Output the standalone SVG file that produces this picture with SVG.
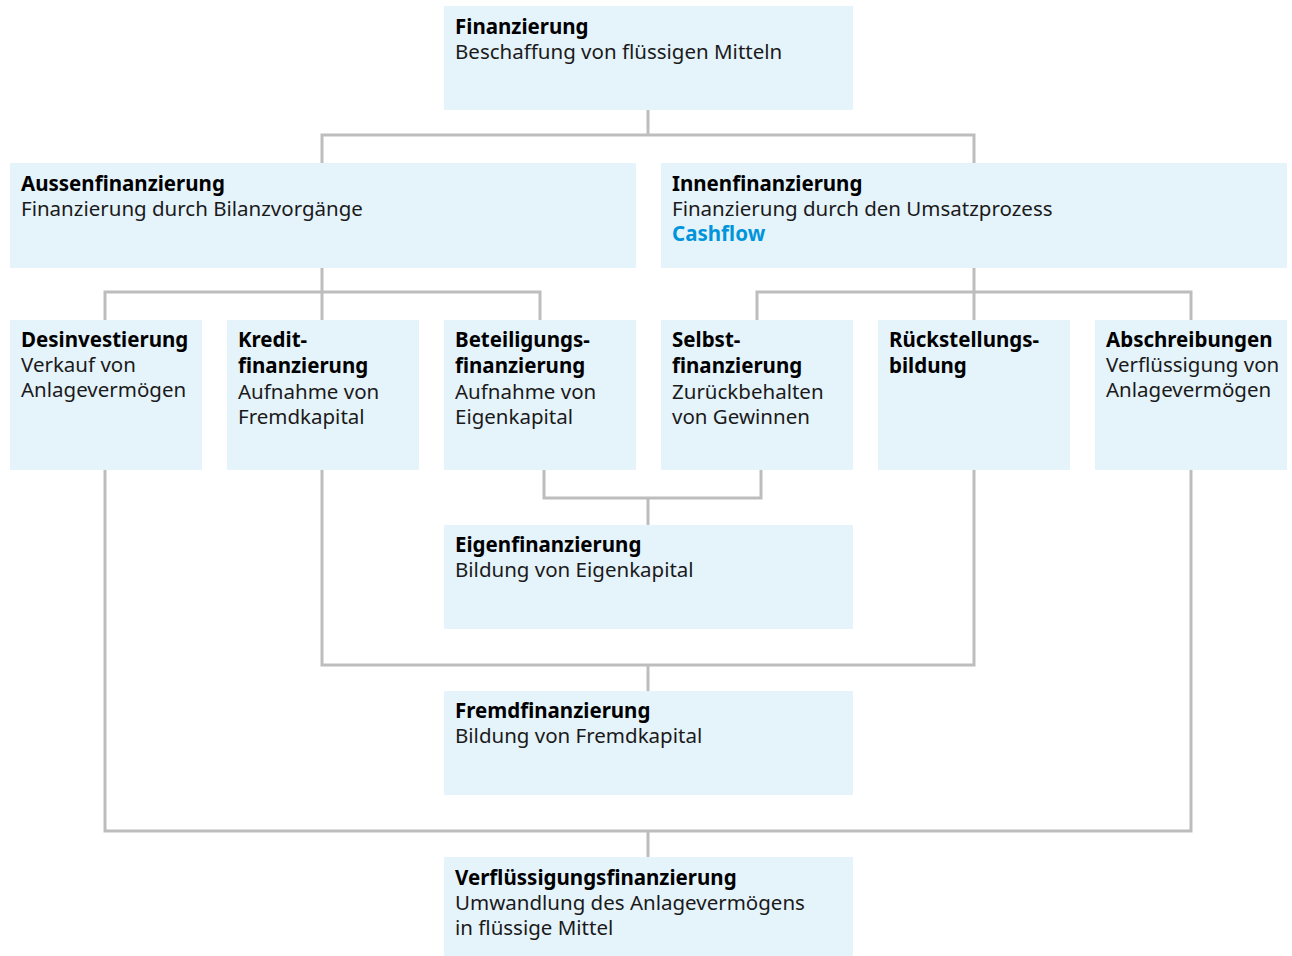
<svg xmlns="http://www.w3.org/2000/svg" width="1292" height="956" viewBox="0 0 1292 956">
<style>
.box{fill:#e5f3fb}
text{font-family:"Noto Sans","Open Sans","Liberation Sans",sans-serif;font-size:20.5px;fill:#1a1a1a}
.b{font-weight:bold;fill:#000}
.c{font-weight:bold;fill:#0095db}
.ln{fill:none;stroke:#bdbdbd;stroke-width:3}
</style>
<rect width="1292" height="956" fill="#fff"/>
<g id="connectors">
<path class="ln" d="M648,110V135M322,163V135H974V163"/>
<path class="ln" d="M322,268V320M105,320V292H540V320"/>
<path class="ln" d="M974,268V320M757,320V292H1191V320"/>
<path class="ln" d="M544,470V498H761V470M648,498V525"/>
<path class="ln" d="M322,470V665H974V470M648,665V691"/>
<path class="ln" d="M105,470V831H1191V470M648,831V857"/>
</g>
<g id="finanzierung"><rect class="box" x="444" y="6" width="409" height="104"/><text x="455" y="34"><tspan class="b">Finanzierung</tspan><tspan x="455" dy="25">Beschaffung von flüssigen Mitteln</tspan></text></g>
<g id="aussen"><rect class="box" x="10" y="163" width="626" height="105"/><text x="21" y="191"><tspan class="b">Aussenfinanzierung</tspan><tspan x="21" dy="25">Finanzierung durch Bilanzvorgänge</tspan></text></g>
<g id="innen"><rect class="box" x="661" y="163" width="626" height="105"/><text x="672" y="191"><tspan class="b">Innenfinanzierung</tspan><tspan x="672" dy="25">Finanzierung durch den Umsatzprozess</tspan><tspan x="672" dy="25" class="c">Cashflow</tspan></text></g>
<g id="desinvestierung"><rect class="box" x="10" y="320" width="192" height="150"/><text x="21" y="347"><tspan class="b">Desinvestierung</tspan><tspan x="21" dy="25">Verkauf von</tspan><tspan x="21" dy="25">Anlagevermögen</tspan></text></g>
<g id="kredit"><rect class="box" x="227" y="320" width="192" height="150"/><text x="238" y="347"><tspan class="b">Kredit-</tspan><tspan x="238" dy="26" class="b">finanzierung</tspan><tspan x="238" dy="26">Aufnahme von</tspan><tspan x="238" dy="25">Fremdkapital</tspan></text></g>
<g id="beteiligung"><rect class="box" x="444" y="320" width="192" height="150"/><text x="455" y="347"><tspan class="b">Beteiligungs-</tspan><tspan x="455" dy="26" class="b">finanzierung</tspan><tspan x="455" dy="26">Aufnahme von</tspan><tspan x="455" dy="25">Eigenkapital</tspan></text></g>
<g id="selbst"><rect class="box" x="661" y="320" width="192" height="150"/><text x="672" y="347"><tspan class="b">Selbst-</tspan><tspan x="672" dy="26" class="b">finanzierung</tspan><tspan x="672" dy="26">Zurückbehalten</tspan><tspan x="672" dy="25">von Gewinnen</tspan></text></g>
<g id="rueckstellung"><rect class="box" x="878" y="320" width="192" height="150"/><text x="889" y="347"><tspan class="b">Rückstellungs-</tspan><tspan x="889" dy="26" class="b">bildung</tspan></text></g>
<g id="abschreibungen"><rect class="box" x="1095" y="320" width="192" height="150"/><text x="1106" y="347"><tspan class="b">Abschreibungen</tspan><tspan x="1106" dy="25">Verflüssigung von</tspan><tspan x="1106" dy="25">Anlagevermögen</tspan></text></g>
<g id="eigen"><rect class="box" x="444" y="525" width="409" height="104"/><text x="455" y="552"><tspan class="b">Eigenfinanzierung</tspan><tspan x="455" dy="25">Bildung von Eigenkapital</tspan></text></g>
<g id="fremd"><rect class="box" x="444" y="691" width="409" height="104"/><text x="455" y="718"><tspan class="b">Fremdfinanzierung</tspan><tspan x="455" dy="25">Bildung von Fremdkapital</tspan></text></g>
<g id="verfluessigung"><rect class="box" x="444" y="857" width="409" height="99"/><text x="455" y="885"><tspan class="b">Verflüssigungsfinanzierung</tspan><tspan x="455" dy="25">Umwandlung des Anlagevermögens</tspan><tspan x="455" dy="25">in flüssige Mittel</tspan></text></g>
</svg>
